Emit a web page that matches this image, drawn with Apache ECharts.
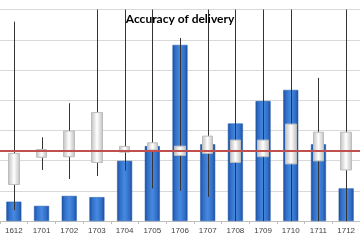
<!DOCTYPE html>
<html><head><meta charset="utf-8">
<script src="https://cdn.jsdelivr.net/npm/echarts@6/dist/echarts.min.js"></script>
<style>html,body{margin:0;padding:0;background:#fff}#c{width:360px;height:240px}</style>
</head><body><div id="c"></div>
<script>
const categories = ['1612','1701','1702','1703','1704','1705','1706','1707','1708','1709','1710','1711','1712'];
const barValues = [6.4, 5.0, 8.3, 7.9, 19.9, 24.8, 58.3, 25.4, 32.3, 39.7, 43.4, 25.4, 10.8];
const boxTop    = [22.4, 23.7, 29.8, 35.9, 24.7, 25.9, 24.8, 28.1, 26.8, 26.8, 32.1, 29.4, 29.4];
const boxBottom = [12.1, 21.1, 21.3, 19.4, 22.8, 23.5, 21.7, 22.4, 19.4, 21.3, 18.9, 19.9, 16.9];
const highValues = [66, 27.7, 39, 75, 75, 75, 60.6, 75, 75, 75, 75, 47.4, 75];
const lowValues  = [3.6, 16.9, 13.9, 14.9, 16.7, 10.8, 10, 8, 0, 0, 0, 0, 0];
const targetValue = 23.3;

const chart = echarts.init(document.getElementById('c'), null, {renderer:'canvas'});
const boxData = categories.map((c,i)=>[boxBottom[i], boxTop[i], boxBottom[i], boxTop[i]]);
const wickData = categories.map((c,i)=>[i, lowValues[i], highValues[i]]);
const barGrad = new echarts.graphic.LinearGradient(0,0,1,0,[
  {offset:0,color:'#1C4F9E'},{offset:0.2,color:'#336FC8'},{offset:0.5,color:'#468AE0'},
  {offset:0.8,color:'#336FC8'},{offset:1,color:'#1C4F9E'}]);
const boxGrad = new echarts.graphic.LinearGradient(0,0,1,0,[
  {offset:0,color:'#BEBEBE'},{offset:0.5,color:'#FFFFFF'},{offset:1,color:'#BEBEBE'}]);
chart.setOption({
  animation:false,
  title:{text:'Accuracy of delivery',left:'center',top:8,
    textStyle:{fontFamily:'Lato',fontWeight:'bold',fontSize:12,color:'#000'}},
  grid:{left:-4,right:-6,top:9.6,bottom:19},
  xAxis:{type:'category',data:categories,boundaryGap:true,
    axisLine:{lineStyle:{color:'#BFBFBF'}},
    axisTick:{show:true,length:3,lineStyle:{color:'#BFBFBF'}},
    axisLabel:{fontSize:8,color:'#404040',margin:6,fontFamily:'Liberation Sans'}},
  yAxis:{type:'value',min:0,max:70,interval:10,
    axisLine:{show:false},axisTick:{show:false},axisLabel:{show:false},
    splitLine:{lineStyle:{color:'#D9D9D9'}}},
  series:[
    {type:'bar',data:barValues,barWidth:15,z:2,
      itemStyle:{color:barGrad,borderColor:'#1E5AAE',borderWidth:0.5}},
    {type:'custom',z:3,clip:true,data:wickData,
      renderItem:(params,api)=>{
        const p1=api.coord([api.value(0),api.value(1)]);
        const p2=api.coord([api.value(0),api.value(2)]);
        const x=Math.round(p1[0])+0.5;
        return {type:'line',shape:{x1:x,y1:p1[1],x2:x,y2:p2[1]},
          style:{stroke:'#333333',lineWidth:1}};
      }},
    {type:'candlestick',data:boxData,barWidth:11,z:4,
      itemStyle:{color:boxGrad,color0:boxGrad,borderColor:'#BDBDBD',borderColor0:'#BDBDBD',borderWidth:1},
      markLine:{symbol:'none',silent:true,label:{show:false},z:5,
        lineStyle:{color:'#C0504D',width:2,type:'solid'},
        data:[{yAxis:targetValue}]}}
  ]
});
</script></body></html>
